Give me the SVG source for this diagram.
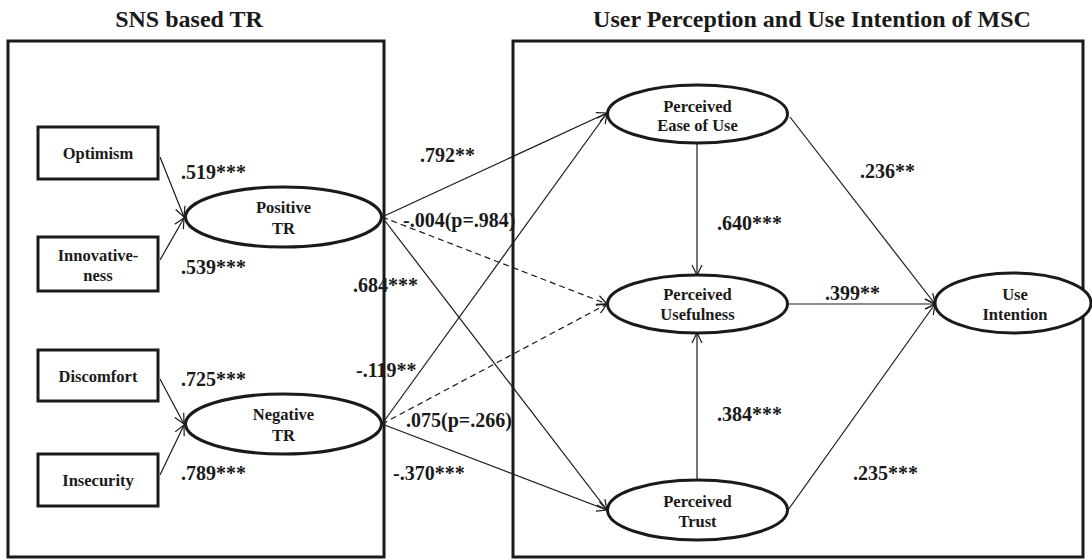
<svg xmlns="http://www.w3.org/2000/svg" width="1092" height="560" viewBox="0 0 1092 560">
  <style>
    .frame { fill: none; stroke: #1a1a1a; stroke-width: 3; }
    .node { fill: #fff; stroke: #1a1a1a; stroke-width: 3; }
    .title { font-family: "Liberation Serif", "Times New Roman", serif; font-weight: bold; font-size: 24px; fill: #1a1a1a; text-anchor: middle; }
    .ntext { font-family: "Liberation Serif", "Times New Roman", serif; font-weight: bold; font-size: 16.5px; fill: #1a1a1a; text-anchor: middle; }
    .lbl { font-family: "Liberation Serif", "Times New Roman", serif; font-weight: bold; font-size: 20px; fill: #1a1a1a; }
    .edge { fill: none; stroke: #1a1a1a; stroke-width: 1.2; marker-end: url(#arr); }
    .dash { stroke-dasharray: 6 4; }
  </style>
  <defs>
    <marker id="arr" markerUnits="userSpaceOnUse" markerWidth="12" markerHeight="12" viewBox="0 0 12 12" refX="11" refY="6" orient="auto">
      <path d="M1,1 L11,6 L1,11" fill="none" stroke="#1a1a1a" stroke-width="1.2"/>
    </marker>
  </defs>

  <rect width="1092" height="560" fill="#fff"/>

  <!-- section titles and frames -->
  <g id="section-left">
    <text class="title" x="189" y="27">SNS based TR</text>
    <rect class="frame" x="8" y="41" width="376" height="516"/>
  </g>
  <g id="section-right">
    <text class="title" x="812" y="27">User Perception and Use Intention of MSC</text>
    <rect class="frame" x="513" y="41" width="570" height="516"/>
  </g>

  <!-- connectors -->
  <g id="connectors">
    <line class="edge" x1="160" y1="157" x2="184" y2="217"/>
    <line class="edge" x1="160" y1="260" x2="184" y2="218"/>
    <line class="edge" x1="160" y1="379" x2="184" y2="424"/>
    <line class="edge" x1="160" y1="475" x2="184" y2="425"/>

    <line class="edge" x1="382" y1="217" x2="607" y2="113"/>
    <line class="edge dash" x1="382" y1="217" x2="607" y2="304"/>
    <line class="edge" x1="382" y1="217" x2="607" y2="510"/>
    <line class="edge" x1="382" y1="424" x2="607" y2="113"/>
    <line class="edge dash" x1="382" y1="424" x2="607" y2="304"/>
    <line class="edge" x1="382" y1="424" x2="607" y2="510"/>

    <line class="edge" x1="697" y1="143" x2="697" y2="275"/>
    <line class="edge" x1="697" y1="480" x2="697" y2="333"/>
    <line class="edge" x1="790" y1="117" x2="935" y2="304"/>
    <line class="edge" x1="788" y1="304" x2="935" y2="304"/>
    <line class="edge" x1="788" y1="510" x2="935" y2="304"/>
  </g>

  <!-- path coefficients -->
  <g id="labels">
    <text class="lbl" x="181" y="179">.519***</text>
    <text class="lbl" x="181" y="274">.539***</text>
    <text class="lbl" x="181" y="386">.725***</text>
    <text class="lbl" x="181" y="480">.789***</text>
    <text class="lbl" x="420" y="162">.792**</text>
    <text class="lbl" x="403" y="227">-.004(p=.984)</text>
    <text class="lbl" x="353" y="292">.684***</text>
    <text class="lbl" x="356" y="377">-.119**</text>
    <text class="lbl" x="406" y="427">.075(p=.266)</text>
    <text class="lbl" x="393" y="480">-.370***</text>
    <text class="lbl" x="717" y="230">.640***</text>
    <text class="lbl" x="717" y="421">.384***</text>
    <text class="lbl" x="860" y="178">.236**</text>
    <text class="lbl" x="825" y="300">.399**</text>
    <text class="lbl" x="853" y="480">.235***</text>
  </g>

  <!-- indicator boxes -->
  <g id="optimism">
    <rect class="node" x="38" y="127" width="120" height="52"/>
    <text class="ntext" x="98" y="159">Optimism</text>
  </g>
  <g id="innovativeness">
    <rect class="node" x="38" y="237" width="120" height="54"/>
    <text class="ntext" x="98" y="261">Innovative-</text>
    <text class="ntext" x="98" y="281">ness</text>
  </g>
  <g id="discomfort">
    <rect class="node" x="38" y="350" width="120" height="51"/>
    <text class="ntext" x="98" y="382">Discomfort</text>
  </g>
  <g id="insecurity">
    <rect class="node" x="38" y="454" width="120" height="52"/>
    <text class="ntext" x="98" y="486">Insecurity</text>
  </g>

  <!-- latent constructs -->
  <g id="positive-tr">
    <ellipse class="node" cx="283.5" cy="217" rx="98" ry="30"/>
    <text class="ntext" x="283.5" y="213">Positive</text>
    <text class="ntext" x="283.5" y="234">TR</text>
  </g>
  <g id="negative-tr">
    <ellipse class="node" cx="283.5" cy="424" rx="98" ry="30"/>
    <text class="ntext" x="283.5" y="420">Negative</text>
    <text class="ntext" x="283.5" y="441">TR</text>
  </g>
  <g id="perceived-ease-of-use">
    <ellipse class="node" cx="697.5" cy="114" rx="90" ry="29"/>
    <text class="ntext" x="697.5" y="112">Perceived</text>
    <text class="ntext" x="697.5" y="131">Ease of Use</text>
  </g>
  <g id="perceived-usefulness">
    <ellipse class="node" cx="697.5" cy="304" rx="90" ry="29"/>
    <text class="ntext" x="697.5" y="300">Perceived</text>
    <text class="ntext" x="697.5" y="320">Usefulness</text>
  </g>
  <g id="perceived-trust">
    <ellipse class="node" cx="697.5" cy="510" rx="90" ry="30"/>
    <text class="ntext" x="697.5" y="507">Perceived</text>
    <text class="ntext" x="697.5" y="527">Trust</text>
  </g>
  <g id="use-intention">
    <ellipse class="node" cx="1013" cy="303" rx="78" ry="30"/>
    <text class="ntext" x="1015" y="300">Use</text>
    <text class="ntext" x="1015" y="320">Intention</text>
  </g>
</svg>
